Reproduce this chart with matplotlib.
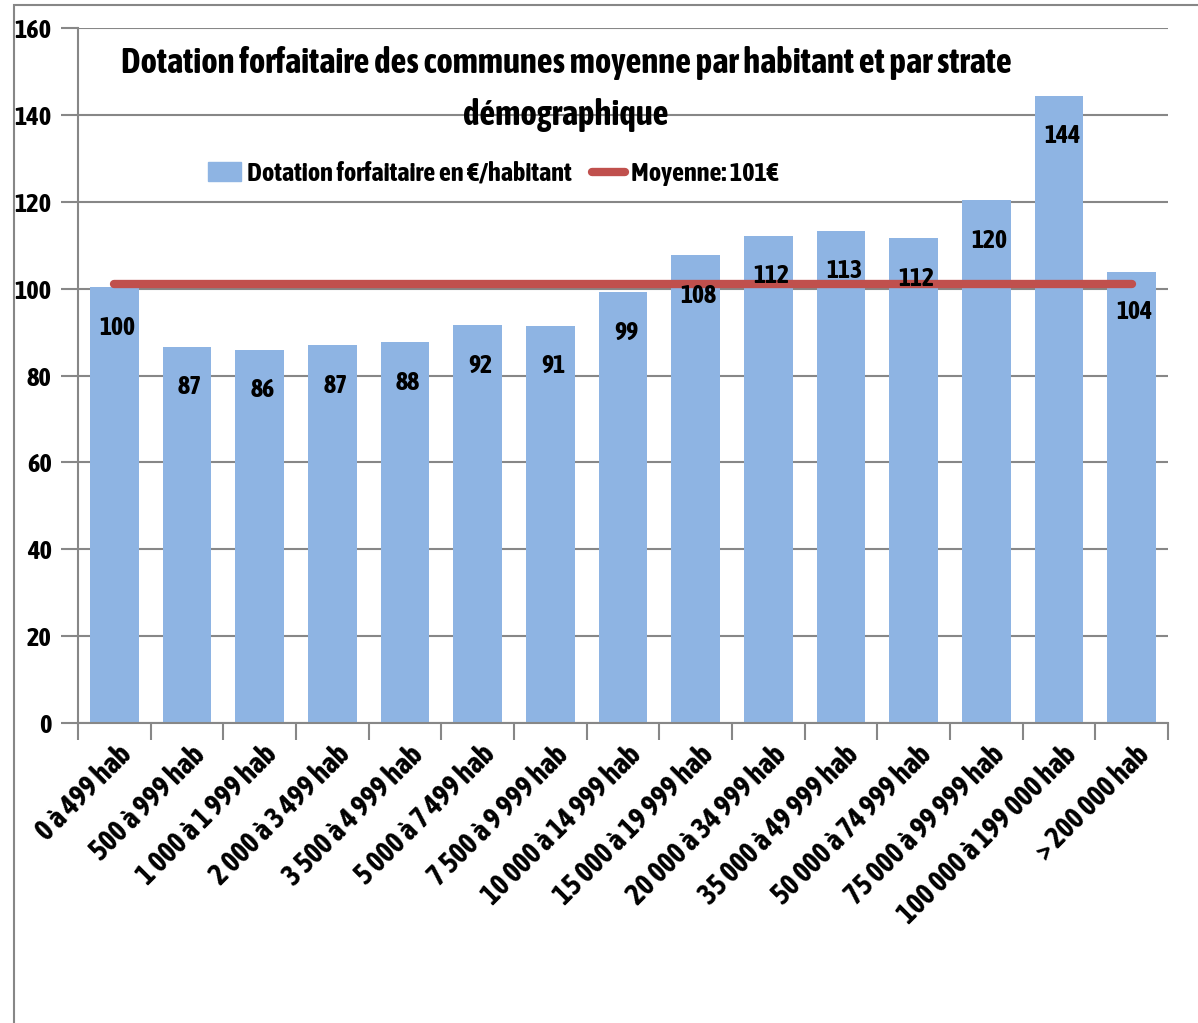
import matplotlib
matplotlib.use("Agg")
import matplotlib.pyplot as plt
from matplotlib.patches import Rectangle
from matplotlib import font_manager
import numpy as np

# --- data -------------------------------------------------------------
categories = [
    "0 à 499 hab", "500 à 999 hab", "1 000 à 1 999 hab", "2 000 à 3 499 hab",
    "3 500 à 4 999 hab", "5 000 à 7 499 hab", "7 500 à 9 999 hab",
    "10 000 à 14 999 hab", "15 000 à 19 999 hab", "20 000 à 34 999 hab",
    "35 000 à 49 999 hab", "50 000 à 74 999 hab", "75 000 à 99 999 hab",
    "100 000 à 199 000 hab", "> 200 000 hab",
]
dotation = [100.3, 86.6, 85.9, 87.0, 87.7, 91.6, 91.4, 99.2,
            107.7, 112.2, 113.3, 111.6, 120.3, 144.4, 103.9]
moyenne = 101
yticks = [0, 20, 40, 60, 80, 100, 120, 140, 160]

title_lines = ["Dotation forfaitaire des communes moyenne par habitant et par strate",
               "démographique"]
bar_label = "Dotation forfaitaire en €/habitant"
mean_label = "Moyenne: 101€"


def _w(f):
    w = f.weight
    if isinstance(w, str):
        w = font_manager.weight_dict.get(w, 400)
    return w


# narrow bold face, close to the Calibri look of the original
cands = [f for f in font_manager.fontManager.ttflist
         if ("condensed" in str(f.stretch) or "Narrow" in f.name or "Condensed" in f.name
             or "Narrow" in f.fname or "Condensed" in f.fname)
         and f.style == "normal"]
cands.sort(key=lambda f: (abs(_w(f) - 700), f.name))
if cands:
    fp = font_manager.FontProperties(fname=cands[0].fname)
    scale = 1.0
else:
    fp = font_manager.FontProperties(family="DejaVu Sans", weight="bold")
    scale = 0.8


def P(size):
    p = fp.copy()
    p.set_size(size * scale)
    return p


bar_color = "#8EB4E3"
line_color = "#C0504D"
grid_color = "#878787"

fig = plt.figure(figsize=(11.98, 10.23), dpi=100)
ax = fig.add_axes([78 / 1198, 1 - 723 / 1023, (1168 - 78) / 1198, (723 - 28) / 1023])

x = np.arange(len(categories))
ax.bar(x, dotation, width=0.67, color=bar_color, zorder=2)
ax.plot([x[0], x[-1]], [moyenne, moyenne], color=line_color, lw=6,
        solid_capstyle="round", zorder=3)

for xi, v in zip(x, dotation):
    ax.annotate(f"{v:.0f}", (xi, v), xytext=(3, -40), textcoords="offset pixels",
                ha="center", va="center", fontproperties=P(18.5), zorder=4)

ax.set_xlim(-0.5, len(categories) - 0.5)
ax.set_ylim(0, 160)
ax.set_yticks(yticks)
ax.set_yticklabels([str(t) for t in yticks], fontproperties=P(19))
ax.set_xticks(np.arange(len(categories) + 1) - 0.5)
ax.set_xticklabels([])
ax.set_xticks(x, minor=True)
ax.set_xticklabels(categories, minor=True, rotation=45, ha="right",
                   rotation_mode="anchor", fontproperties=P(21))
ax.tick_params(axis="x", which="minor", length=0, pad=12)
ax.tick_params(axis="x", which="major", length=12, color=grid_color, width=1.5)
ax.tick_params(axis="y", length=12, color=grid_color, width=1.5, pad=7)
offset = matplotlib.transforms.ScaledTranslation(0.03, 0, fig.dpi_scale_trans)
for lbl in ax.get_xticklabels(minor=True):
    lbl.set_transform(lbl.get_transform() + offset)

ax.yaxis.grid(True, color=grid_color, lw=1.5, zorder=0)
ax.set_axisbelow(True)
for s in ["top", "right"]:
    ax.spines[s].set_visible(False)
for s in ["left", "bottom"]:
    ax.spines[s].set_color(grid_color)
    ax.spines[s].set_linewidth(1.5)

fig.text(566 / 1198, 1 - 63 / 1023, title_lines[0], ha="center", va="center",
         fontproperties=P(25))
fig.text(566 / 1198, 1 - 115 / 1023, title_lines[1], ha="center", va="center",
         fontproperties=P(25))

h1 = Rectangle((0, 0), 1, 1, color=bar_color)
h2, = ax.plot([], [], color=line_color, lw=6, solid_capstyle="round")
ax.legend([h1, h2], [bar_label, mean_label], loc="center",
          bbox_to_anchor=(0.381, 0.791), ncol=2, frameon=False, prop=P(19),
          handlelength=1.25, handletextpad=0.2, columnspacing=0.8)

fig.patches.append(Rectangle((14 / 1198, -0.01), 1.02, 1 - 5 / 1023 + 0.01,
                             transform=fig.transFigure, fill=False,
                             edgecolor=grid_color, lw=1.5))

fig.savefig("out.png", dpi=100)
